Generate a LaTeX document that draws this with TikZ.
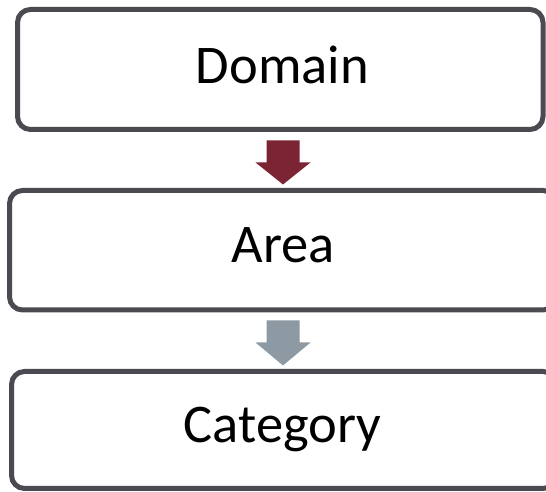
\documentclass[tikz,border=0pt]{standalone}
\usepackage{fontspec}
\setmainfont{Carlito}
\usetikzlibrary{calc}
\definecolor{boxline}{RGB}{74,74,80}
\definecolor{arrowred}{RGB}{122,36,52}
\definecolor{arrowgray}{RGB}{141,154,163}
\tikzset{
  levelbox/.style={draw=boxline, line width=5pt, rounded corners=13pt, fill=white, inner sep=0pt, rectangle},
  lbl/.style={anchor=base, inner sep=0pt, font=\fontsize{54.5}{60}\selectfont}
}
\begin{document}
\begin{tikzpicture}[x=1pt,y=1pt]
\useasboundingbox (0,0) rectangle (546,492);
\begin{scope}
\clip (0,0) rectangle (546,492);
\node[levelbox, minimum width=525.5pt, minimum height=120pt] (b1) at (280.25,422.5) {};
\node[levelbox, minimum width=546.5pt, minimum height=119.5pt] (b2) at (282.75,241.75) {};
\node[levelbox, minimum width=544.5pt, minimum height=117pt] (b3) at (283.75,62) {};
\end{scope}
\node[lbl] (t1) at (282.5,408) {Domain};
\node[lbl] (t2) at (283,229) {Area};
\node[lbl] (t3) at (282.5,49) {Category};
% block arrows between boxes
\coordinate (a1) at ($(b1.south)+(2.75,-8.5)$);
\fill[arrowred] (a1) ++(-16.5,0) -- ++(33,0) -- ++(0,-22) -- ++(11,0) -- ++(-27.5,-22) -- ++(-27.5,22) -- ++(11,0) -- cycle;
\coordinate (a2) at ($(b2.south)+(0.25,-8)$);
\fill[arrowgray] (a2) ++(-16.5,0) -- ++(33,0) -- ++(0,-22) -- ++(11,0) -- ++(-27.5,-23) -- ++(-27.5,23) -- ++(11,0) -- cycle;
\end{tikzpicture}
\end{document}
